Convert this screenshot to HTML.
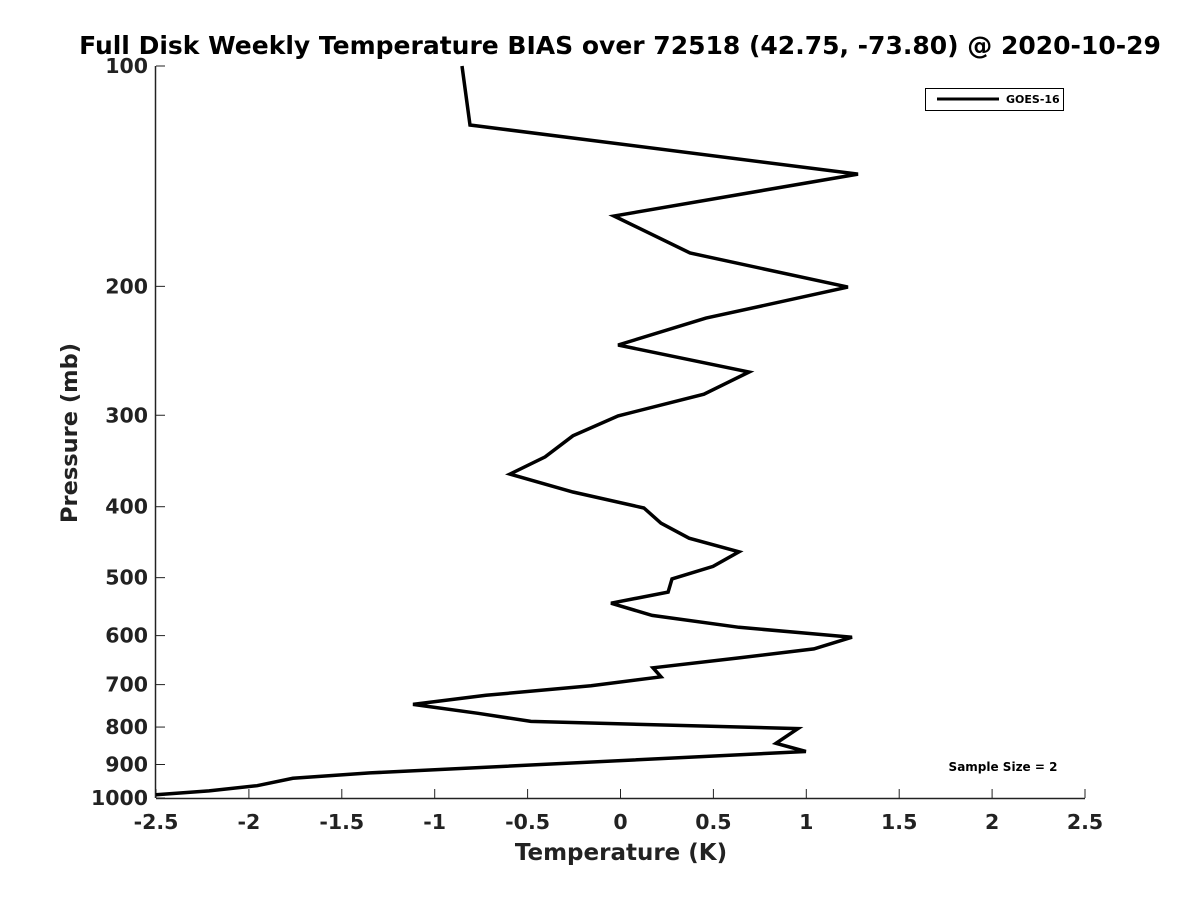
<!DOCTYPE html>
<html><head><meta charset="utf-8"><style>
body{margin:0;background:#fff;}
svg{display:block;font-family:"DejaVu Sans","Liberation Sans",sans-serif;font-weight:bold;}
</style></head><body>
<svg id="chart" width="1200" height="900">
<text x="620" y="54" text-anchor="middle" font-size="25">Full Disk Weekly Temperature BIAS over 72518 (42.75, -73.80) @ 2020-10-29</text>
<g id="axes"></g>
<path id="series" fill="none" stroke="#000" stroke-width="3.5" stroke-linejoin="miter"></path>
<text x="621" y="860" text-anchor="middle" font-size="23" fill="#222">Temperature (K)</text>
<text transform="translate(77,433) rotate(-90)" text-anchor="middle" font-size="22.5" fill="#222">Pressure (mb)</text>
<g>
<rect x="925.5" y="88.5" width="138" height="22" fill="#fff" stroke="#000" stroke-width="1"></rect>
<line x1="937" y1="99" x2="999" y2="99" stroke="#000" stroke-width="3"></line>
<text x="1006" y="103" font-size="11">GOES-16</text>
</g>
<text x="1003" y="771" text-anchor="middle" font-size="12">Sample Size = 2</text>
</svg>
<script>
const temps = [-0.853,-0.810,1.278,-0.035,0.374,1.224,0.460,-0.013,0.692,0.449,-0.013,-0.256,-0.406,-0.595,-0.256,0.126,0.218,0.369,0.638,0.498,0.277,0.256,-0.051,0.170,0.638,1.246,1.041,0.638,0.175,0.218,-0.159,-0.724,-1.117,-0.767,-0.482,0.955,0.837,0.998,-1.348,-1.763,-1.956,-2.215,-2.5];
const pressures = [100,120.4,140.5,160.3,180.1,200.5,221,240.5,261.8,280.8,300.6,320,342,361,381.9,401.6,421.3,441.6,460.9,482.6,502,523.3,541.9,563,584.5,603,625.7,643.5,664,683,702.5,724,745,766,786,804,842,864,924,940,962,978,990];
const xTicks = [-2.5,-2,-1.5,-1,-0.5,0,0.5,1,1.5,2,2.5];
const yTicks = [100,200,300,400,500,600,700,800,900,1000];

const X0=156,X1=1085,Y0=66,Y1=798;
const xs = v => X0 + (v+2.5)/5*(X1-X0);
const ys = p => Y0 + Math.log10(p/100)*(Y1-Y0);
const NS="http://www.w3.org/2000/svg";
const axes=document.getElementById('axes');
function mk(tag,attrs){const e=document.createElementNS(NS,tag);for(const k in attrs)e.setAttribute(k,attrs[k]);return e;}

const xl=mk('line',{x1:X0,y1:Y1+0.5,x2:X1,y2:Y1+0.5,stroke:'#222','stroke-width':1.5});


axes.appendChild(xl);
const yl=mk('line',{x1:X0-0.5,y1:Y0,x2:X0-0.5,y2:Y1,stroke:'#222','stroke-width':1.5});


axes.appendChild(yl);

xTicks.forEach(v=>{
  const x=xs(v);
  const t=mk('line',{x1:x,y1:Y1,x2:x,y2:Y1-9,stroke:'#222','stroke-width':1});
  
  
  axes.appendChild(t);
  const l=mk('text',{x:x,y:Y1+31,'text-anchor':'middle','font-size':20.5,fill:'#222'});
  l.textContent=String(v);
  
  
  axes.appendChild(l);
});
yTicks.forEach(p=>{
  const y=ys(p);
  const t=mk('line',{x1:X0,y1:y,x2:X0+9,y2:y,stroke:'#222','stroke-width':1});
  
  
  axes.appendChild(t);
  const l=mk('text',{x:148,y:y+7,'text-anchor':'end','font-size':20.5,fill:'#222'});
  l.textContent=String(p);
  
  
  axes.appendChild(l);
});
let d='';
temps.forEach((t,i)=>{d+=(i?'L':'M')+xs(t).toFixed(1)+','+ys(pressures[i]).toFixed(1);});
document.getElementById('series').setAttribute('d',d);
</script>
</body></html>
